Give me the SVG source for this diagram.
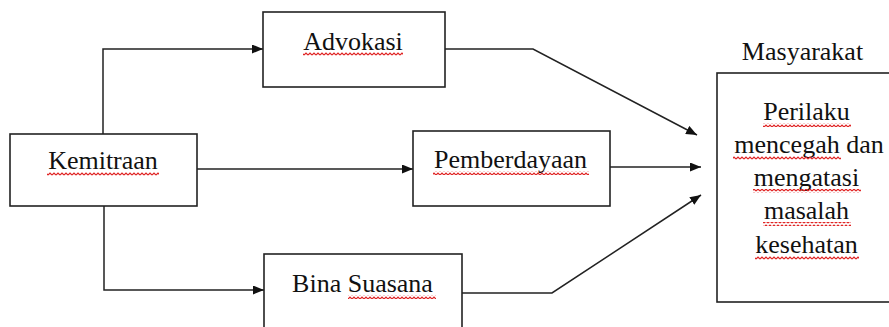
<svg xmlns="http://www.w3.org/2000/svg" width="889" height="327" viewBox="0 0 889 327">
  <defs>
    <marker id="arrow" viewBox="0 0 11 9" refX="11" refY="4.5" markerWidth="11" markerHeight="9" markerUnits="userSpaceOnUse" orient="auto">
      <path d="M0,0 L11,4.5 L0,9 Z" fill="#111"/>
    </marker>
    <pattern id="squiggle" width="4" height="4" patternUnits="userSpaceOnUse">
      <path d="M0,3 L2,1 L4,3" fill="none" stroke="#e02020" stroke-width="1.2"/>
    </pattern>
    <style>
      .box { fill: #fff; stroke: #222; stroke-width: 1.6; }
      .lbl { font-family: "Liberation Serif", "Times New Roman", serif; font-size: 26px; fill: #111; text-anchor: middle; }
      .link { fill: none; stroke: #222; stroke-width: 1.5; }
      .wavy { fill: url(#squiggle); }
    </style>
  </defs>
  <rect width="889" height="327" fill="#fff"/>

  <!-- connectors -->
  <g id="connectors">
    <path class="link" d="M103,134 V49 H263" marker-end="url(#arrow)"/>
    <path class="link" d="M197,169 H413" marker-end="url(#arrow)"/>
    <path class="link" d="M104,206 V290 H264" marker-end="url(#arrow)"/>
    <path class="link" d="M445,49 H533 L697,135" marker-end="url(#arrow)"/>
    <path class="link" d="M610,167 H701" marker-end="url(#arrow)"/>
    <path class="link" d="M462,293 H552 L701,195" marker-end="url(#arrow)"/>
  </g>

  <g id="advokasi">
    <rect class="box" x="263" y="12" width="182" height="75"/>
    <text class="lbl" x="353" y="50">Advokasi</text>
    <rect class="wavy" x="303" y="52" width="100" height="4"/>
  </g>

  <g id="kemitraan">
    <rect class="box" x="10" y="134" width="187" height="72"/>
    <text class="lbl" x="103" y="169">Kemitraan</text>
    <rect class="wavy" x="47" y="172" width="112" height="4"/>
  </g>

  <g id="pemberdayaan">
    <rect class="box" x="413" y="131" width="197" height="75"/>
    <text class="lbl" x="510.5" y="168">Pemberdayaan</text>
    <rect class="wavy" x="433" y="171" width="156" height="4"/>
  </g>

  <g id="bina-suasana">
    <rect class="box" x="264" y="254" width="198" height="90"/>
    <text class="lbl" x="362.5" y="292">Bina Suasana</text>
    <rect class="wavy" x="348" y="295" width="88" height="4"/>
  </g>

  <g id="masyarakat">
    <text class="lbl" x="802.5" y="60">Masyarakat</text>
    <rect class="box" x="717" y="73" width="190" height="229"/>
    <text class="lbl" x="806.5" y="120">Perilaku</text>
    <text class="lbl" x="809" y="153">mencegah dan</text>
    <text class="lbl" x="806.5" y="186">mengatasi</text>
    <text class="lbl" x="806.5" y="219">masalah</text>
    <text class="lbl" x="806.5" y="253">kesehatan</text>
    <rect class="wavy" x="763" y="123" width="88" height="4"/>
    <rect class="wavy" x="733" y="156" width="108" height="4"/>
    <rect class="wavy" x="753" y="189" width="108" height="4"/>
    <rect class="wavy" x="763" y="222" width="88" height="4"/>
    <rect class="wavy" x="755" y="256" width="104" height="4"/>
  </g>
</svg>
